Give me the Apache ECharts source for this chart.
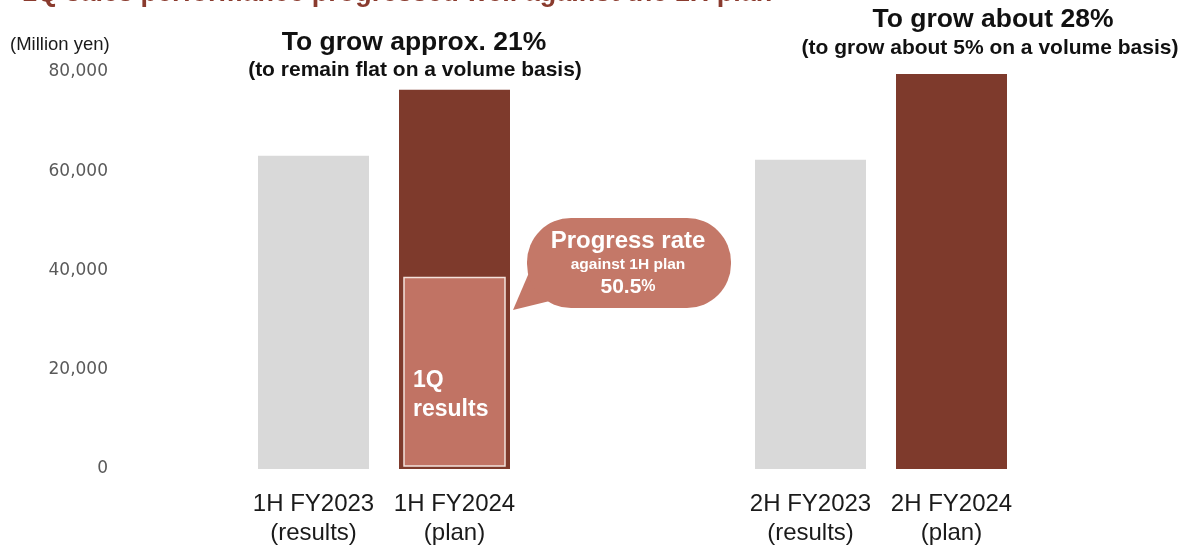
<!DOCTYPE html>
<html>
<head>
<meta charset="utf-8">
<title>1Q sales performance</title>
<script src="https://cdn.jsdelivr.net/npm/echarts@6/dist/echarts.min.js"></script>
<style>
  html, body { margin: 0; padding: 0; background: #ffffff; }
  #chart { width: 1196px; height: 548px; }
</style>
</head>
<body>
<div id="chart"></div>
<script>
// Half-year sales (million yen)
const firstHalfCategories = ['1H FY2023\n(results)', '1H FY2024\n(plan)'];
const secondHalfCategories = ['2H FY2023\n(results)', '2H FY2024\n(plan)'];
const firstHalfSales = [63100, 76400];
const secondHalfSales = [62300, 79600];
const firstQuarterResults = 38600;   // 1Q actual, inside the 1H FY2024 plan bar

// Value axis ticks
const yMin = 0;
const yMax = 80000;
const yInterval = 20000;

const COLOR_RESULT = '#D9D9D9';
const COLOR_PLAN = '#7E3A2C';
const COLOR_1Q = '#C17364';
const COLOR_BUBBLE = '#C47868';
const TITLE_COLOR = '#8A3B2E';
const SANS = '"Liberation Sans", Arial, sans-serif';

const progressRate = (firstQuarterResults / firstHalfSales[1] * 100).toFixed(1);

function barData(values) {
  return values.map((v, i) => ({
    value: v,
    itemStyle: { color: i === 0 ? COLOR_RESULT : COLOR_PLAN }
  }));
}

const chart = echarts.init(document.getElementById('chart'), null, { renderer: 'canvas' });

const categoryAxis = (idx, data) => ({
  type: 'category',
  gridIndex: idx,
  data: data,
  axisLine: { show: false },
  axisTick: { show: false },
  axisLabel: {
    interval: 0,
    margin: 21,
    fontFamily: SANS,
    fontSize: 24,
    lineHeight: 29,
    color: '#1a1a1a'
  }
});

const valueAxis = (idx, showLabels) => ({
  type: 'value',
  gridIndex: idx,
  min: yMin,
  max: yMax,
  interval: yInterval,
  splitLine: { show: false },
  axisLine: { show: false },
  axisTick: { show: false },
  axisLabel: {
    show: showLabels,
    margin: 135,
    fontFamily: '"DejaVu Sans", Verdana, sans-serif',
    fontSize: 17,
    color: '#595959',
    formatter: v => v.toLocaleString('en-US')
  }
});

chart.setOption({
  animation: false,
  backgroundColor: '#ffffff',
  grid: [
    { left: 243, width: 282, top: 72, bottom: 78 },
    { left: 740, width: 282, top: 72, bottom: 78 }
  ],
  xAxis: [categoryAxis(0, firstHalfCategories), categoryAxis(1, secondHalfCategories)],
  yAxis: [valueAxis(0, true), valueAxis(1, false)],
  series: [
    {
      type: 'bar',
      xAxisIndex: 0,
      yAxisIndex: 0,
      barWidth: 111,
      data: barData(firstHalfSales)
    },
    {
      // 1Q results drawn as an inset panel within the 1H plan bar
      type: 'custom',
      xAxisIndex: 0,
      yAxisIndex: 0,
      z: 3,
      data: [[1, firstQuarterResults]],
      renderItem: function (params, api) {
        const top = api.coord([api.value(0), api.value(1)]);
        const base = api.coord([api.value(0), 0]);
        const w = 101;
        const x0 = top[0] - w / 2;
        return {
          type: 'group',
          children: [
            {
              type: 'rect',
              shape: { x: x0, y: top[1], width: w, height: base[1] - top[1] - 3 },
              style: { fill: COLOR_1Q, stroke: '#F4E2DC', lineWidth: 1.5 }
            },
            {
              type: 'text',
              style: {
                text: '1Q\nresults',
                x: x0 + 9,
                y: base[1] - 103,
                fill: '#ffffff',
                font: 'bold 23px ' + SANS,
                lineHeight: 29,
                align: 'left',
                verticalAlign: 'top'
              }
            }
          ]
        };
      }
    },
    {
      type: 'bar',
      xAxisIndex: 1,
      yAxisIndex: 1,
      barWidth: 111,
      data: barData(secondHalfSales)
    }
  ],
  graphic: [
    {
      type: 'text', left: 22, top: -20,
      style: {
        text: '1Q sales performance progressed well against the 1H plan',
        fill: TITLE_COLOR, font: 'bold 27px ' + SANS
      }
    },
    {
      type: 'text', x: 10, y: 45,
      style: {
        text: '(Million yen)', fill: '#1a1a1a', font: '18.5px ' + SANS,
        align: 'left', verticalAlign: 'middle'
      }
    },
    {
      type: 'text', x: 414, y: 43,
      style: {
        text: 'To grow approx. 21%', fill: '#111111', font: 'bold 26.5px ' + SANS,
        align: 'center', verticalAlign: 'middle'
      }
    },
    {
      type: 'text', x: 415, y: 70,
      style: {
        text: '(to remain flat on a volume basis)', fill: '#111111', font: 'bold 21px ' + SANS,
        align: 'center', verticalAlign: 'middle'
      }
    },
    {
      type: 'text', x: 993, y: 20,
      style: {
        text: 'To grow about 28%', fill: '#111111', font: 'bold 26.5px ' + SANS,
        align: 'center', verticalAlign: 'middle'
      }
    },
    {
      type: 'text', x: 990, y: 48,
      style: {
        text: '(to grow about 5% on a volume basis)', fill: '#111111', font: 'bold 21px ' + SANS,
        align: 'center', verticalAlign: 'middle'
      }
    },
    // Speech bubble with the progress rate
    {
      type: 'polygon', z: 10,
      shape: { points: [[513, 310], [531, 268], [562, 298]] },
      style: { fill: COLOR_BUBBLE }
    },
    {
      type: 'rect', z: 10,
      shape: { x: 527, y: 218, width: 204, height: 90, r: 44 },
      style: { fill: COLOR_BUBBLE }
    },
    {
      type: 'text', z: 11, x: 628, y: 241,
      style: {
        text: 'Progress rate', fill: '#ffffff', font: 'bold 24px ' + SANS,
        align: 'center', verticalAlign: 'middle'
      }
    },
    {
      type: 'text', z: 11, x: 628, y: 265,
      style: {
        text: 'against 1H plan', fill: '#ffffff', font: 'bold 15.5px ' + SANS,
        align: 'center', verticalAlign: 'middle'
      }
    },
    {
      type: 'text', z: 11, x: 628, y: 287,
      style: {
        text: '{n|' + progressRate + '}{p|%}',
        align: 'center', verticalAlign: 'middle',
        rich: {
          n: { fill: '#ffffff', fontFamily: SANS, fontWeight: 'bold', fontSize: 21 },
          p: { fill: '#ffffff', fontFamily: SANS, fontWeight: 'bold', fontSize: 16 }
        }
      }
    }
  ]
});
</script>
</body>
</html>
